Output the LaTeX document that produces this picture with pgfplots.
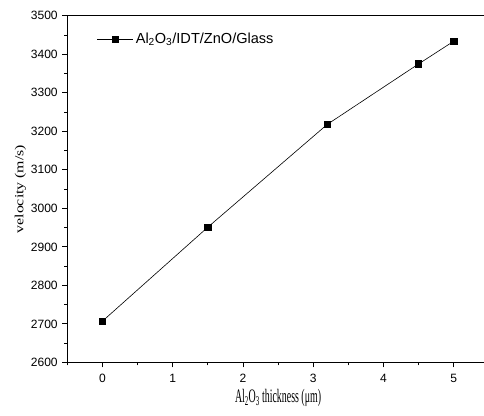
\documentclass[border=0pt]{standalone}
\usepackage{fontspec}
\setmainfont{Liberation Serif}
\newfontfamily\arial{Liberation Sans}
\usepackage{graphicx}
\usepackage{pgfplots}
\pgfplotsset{compat=1.18}
\begin{document}
\begin{tikzpicture}
\begin{axis}[
  scale only axis,
  width=420pt, height=345.3pt,
  xmin=-0.5, xmax=5.5,
  ymin=2600, ymax=3500,
  xtick={0,1,2,3,4,5},
  ytick={2600,2700,...,3500},
  minor xtick={-0.5,0.5,1.5,2.5,3.5,4.5,5.5},
  minor ytick={2650,2750,...,3450},
  xtick pos=bottom, ytick pos=left,
  tick align=outside,
  major tick length=5pt, minor tick length=3pt,
  every tick/.style={black, line width=0.9pt},
  axis line style={line width=0.9pt},
  tick label style={font=\arial\fontsize{12}{14}\selectfont},
  /pgf/number format/assume math mode=true,
  /pgf/number format/1000 sep={},
  xticklabel style={yshift=-3pt},
  yticklabel style={xshift=-1pt},
  xlabel={\scalebox{0.52}[1]{\fontsize{19}{22}\selectfont Al\textsubscript{2}O\textsubscript{3} thickness (μm)}},
  ylabel={\scalebox{1}[0.78]{\fontsize{15.8}{18}\selectfont velocity (m/s)}},
  xlabel style={yshift=0pt},
  ylabel style={yshift=-2pt},
  legend style={draw=none, fill=none, at={(0.063,0.962)}, anchor=north west,
    font=\arial\fontsize{14.5}{17}\selectfont},
  legend image code/.code={\draw[#1, mark repeat=2, mark phase=2] plot coordinates {(0pt,0pt) (18pt,0pt) (36pt,0pt)};},
  legend cell align=left,
  clip=false,
]
\addplot[black, line width=0.6pt, mark=square*, mark size=3.1pt, mark options={solid}]
  coordinates {(0,2707) (1.5,2951) (3.2,3218) (4.5,3375) (5,3434)};
\addlegendentry{Al\textsubscript{2}O\textsubscript{3}/IDT/ZnO/Glass}
\coordinate (R) at (axis cs:5.43,3500);
\coordinate (SW) at (axis cs:-0.5,2600);
\end{axis}
\pgfresetboundingbox
\path[use as bounding box] ([shift={(-67pt,-53pt)}]SW) rectangle ([yshift=15.7pt]R);
\end{tikzpicture}
\end{document}
